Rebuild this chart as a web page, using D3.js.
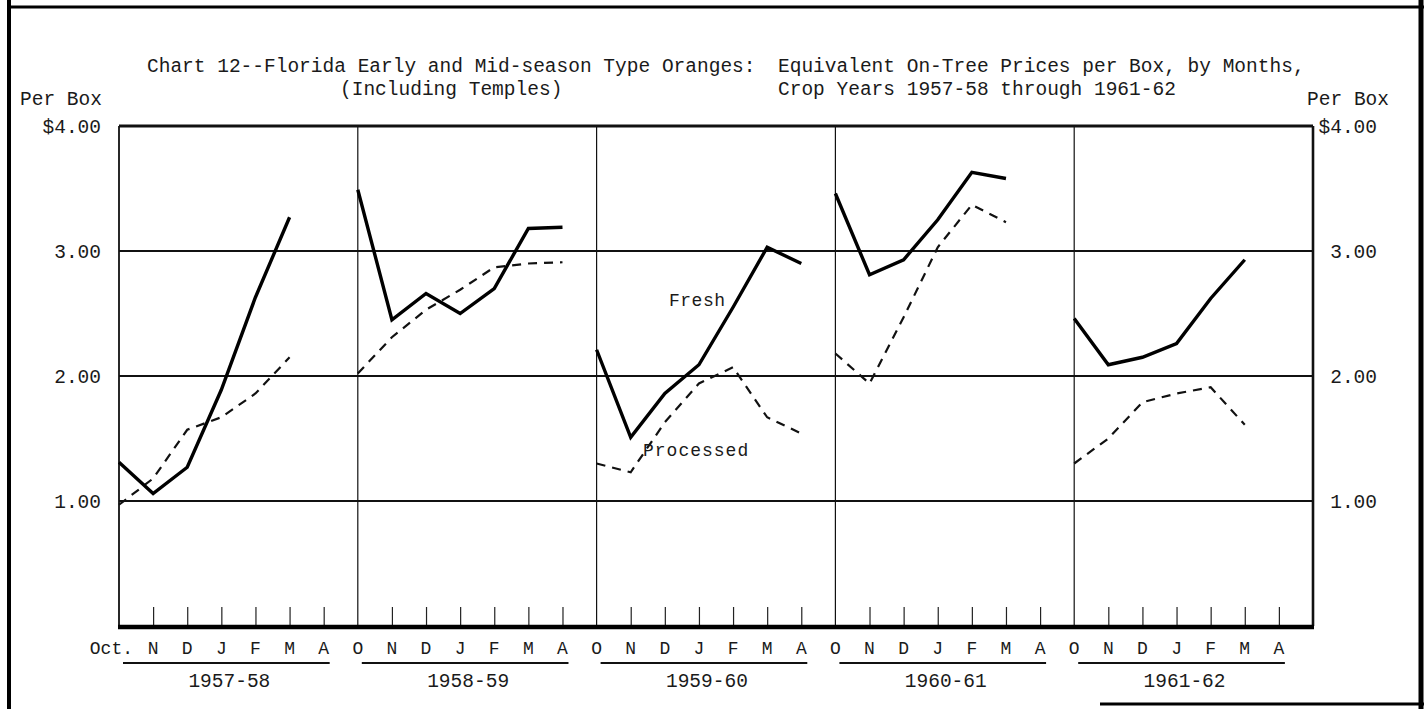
<!DOCTYPE html>
<html>
<head>
<meta charset="utf-8">
<script src="https://cdn.jsdelivr.net/npm/d3@7"></script>
<style>
  body { margin: 0; background: #fff; }
  svg text { font-family: "Liberation Mono", "DejaVu Sans Mono", monospace; fill: #1a1a1a; }
</style>
</head>
<body>
<div id="chart"></div>
<script>
// months of each crop year, Oct. through April
var months = ["O", "N", "D", "J", "F", "M", "A"]
var cropYears = ["1957-58", "1958-59", "1959-60", "1960-61", "1961-62"]
var yTicks = [1, 2, 3, 4]

// equivalent on-tree prices per box, dollars (null = no price)
var fresh1957 = [1.31, 1.06, 1.27, 1.89, 2.63, 3.27, null]
var fresh1958 = [3.49, 2.45, 2.66, 2.50, 2.70, 3.18, 3.19]
var fresh1959 = [2.21, 1.51, 1.86, 2.09, 2.55, 3.03, 2.90]
var fresh1960 = [3.46, 2.81, 2.93, 3.25, 3.63, 3.58, null]
var fresh1961 = [2.46, 2.09, 2.15, 2.26, 2.62, 2.93, null]

var proc1957 = [0.97, 1.18, 1.57, 1.67, 1.86, 2.15, null]
var proc1958 = [2.02, 2.31, 2.53, 2.69, 2.87, 2.90, 2.91]
var proc1959 = [1.30, 1.23, 1.63, 1.94, 2.07, 1.67, 1.54]
var proc1960 = [2.18, 1.94, 2.47, 3.03, 3.37, 3.23, null]
var proc1961 = [1.30, 1.50, 1.79, 1.86, 1.91, 1.61, null]

var fresh = [fresh1957, fresh1958, fresh1959, fresh1960, fresh1961]
var processed = [proc1957, proc1958, proc1959, proc1960, proc1961]

var W = 1425, H = 709
var plot = {left: 119, right: 1313, top: 126, bottom: 626}

var svg = d3.select("#chart").append("svg")
	.attr("width", W)
	.attr("height", H)

var x = d3.scaleLinear()
	.domain([0, months.length * cropYears.length])
	.range([plot.left, plot.right])

var y = d3.scaleLinear()
	.domain([0, 4])
	.range([plot.bottom, plot.top])

var fs = "19.5px"

// page frame
svg.append("line").attr("x1", 9).attr("x2", 9).attr("y1", 0).attr("y2", H)
	.attr("stroke", "#000").attr("stroke-width", 4)
svg.append("line").attr("x1", 7).attr("x2", 1424).attr("y1", 7).attr("y2", 7)
	.attr("stroke", "#000").attr("stroke-width", 3)
svg.append("line").attr("x1", 1421).attr("x2", 1421).attr("y1", 0).attr("y2", H)
	.attr("stroke", "#000").attr("stroke-width", 5)
svg.append("line").attr("x1", 1100).attr("x2", 1424).attr("y1", 704).attr("y2", 704)
	.attr("stroke", "#000").attr("stroke-width", 3)

// title
var title = svg.append("g").style("font-size", fs)
title.append("text").attr("x", 147).attr("y", 72)
	.text("Chart 12--Florida Early and Mid-season Type Oranges:")
title.append("text").attr("x", 778).attr("y", 72)
	.text("Equivalent On-Tree Prices per Box, by Months,")
title.append("text").attr("x", 340).attr("y", 95)
	.text("(Including Temples)")
title.append("text").attr("x", 778).attr("y", 95)
	.text("Crop Years 1957-58 through 1961-62")

svg.append("text").attr("x", 20).attr("y", 105)
	.style("font-size", fs).text("Per Box")
svg.append("text").attr("x", 1389).attr("y", 105).attr("text-anchor", "end")
	.style("font-size", fs).text("Per Box")

// horizontal grid
svg.append("g").selectAll("line")
	.data(yTicks.slice(0, 3))
	.enter().append("line")
	.attr("x1", plot.left).attr("x2", plot.right)
	.attr("y1", function(d) { return y(d) })
	.attr("y2", function(d) { return y(d) })
	.attr("stroke", "#111").attr("stroke-width", 1.8)

// crop year dividers
svg.append("g").selectAll("line")
	.data(d3.range(1, cropYears.length))
	.enter().append("line")
	.attr("x1", function(d) { return x(d * 7) })
	.attr("x2", function(d) { return x(d * 7) })
	.attr("y1", plot.top).attr("y2", plot.bottom)
	.attr("stroke", "#111").attr("stroke-width", 1.2)

// frame of plot
svg.append("line").attr("x1", plot.left).attr("x2", plot.left)
	.attr("y1", plot.top).attr("y2", plot.bottom)
	.attr("stroke", "#111").attr("stroke-width", 1.8)
svg.append("line").attr("x1", plot.right).attr("x2", plot.right)
	.attr("y1", plot.top).attr("y2", plot.bottom)
	.attr("stroke", "#111").attr("stroke-width", 2.6)
svg.append("line").attr("x1", plot.left).attr("x2", plot.right)
	.attr("y1", plot.top).attr("y2", plot.top)
	.attr("stroke", "#111").attr("stroke-width", 3)

// y axes, labels only
var fmt = function(d) { return d == 4 ? "$4.00" : d3.format(".2f")(d) }
svg.append("g")
	.attr("transform", "translate(" + (plot.left - 15) + ",0)")
	.call(d3.axisLeft(y).tickValues(yTicks).tickSize(0).tickFormat(fmt))
svg.append("g")
	.attr("transform", "translate(" + (plot.right + 67) + ",0)")
	.call(d3.axisLeft(y).tickValues(yTicks).tickSize(0).tickFormat(fmt))
svg.selectAll(".domain").remove()
svg.selectAll(".tick text")
	.style("font-size", fs)
	.attr("fill", "#1a1a1a")

// month axis
var monthIdx = d3.range(months.length * cropYears.length)
var xAxis = svg.append("g")
	.attr("transform", "translate(0," + plot.bottom + ")")
	.call(d3.axisBottom(x)
		.tickValues(monthIdx.filter(function(i) { return i % 7 != 0 }))
		.tickSize(-19)
		.tickFormat(""))
xAxis.select(".domain").remove()
xAxis.selectAll(".tick line").attr("stroke", "#222").attr("stroke-width", 1.2)

svg.append("line").attr("x1", plot.left - 1).attr("x2", plot.right + 1)
	.attr("y1", plot.bottom + 1).attr("y2", plot.bottom + 1)
	.attr("stroke", "#000").attr("stroke-width", 4.5)

svg.append("g").selectAll("text")
	.data(monthIdx)
	.enter().append("text")
	.attr("x", function(i) { return i == 0 ? x(i) + 14 : x(i) })
	.attr("y", 654)
	.attr("text-anchor", function(i) { return i == 0 ? "end" : "middle" })
	.style("font-size", "18px")
	.text(function(i) { return i == 0 ? "Oct." : months[i % 7] })

// crop year underline and label
var years = svg.append("g").selectAll("g")
	.data(cropYears)
	.enter().append("g")
years.append("line")
	.attr("x1", function(d, i) { return x(i * 7) + 4 })
	.attr("x2", function(d, i) { return x(i * 7 + 6) + 6 })
	.attr("y1", 663).attr("y2", 663)
	.attr("stroke", "#111").attr("stroke-width", 2)
years.append("text")
	.attr("x", function(d, i) { return x(i * 7 + 3) + 8 })
	.attr("y", 687)
	.attr("text-anchor", "middle")
	.style("font-size", fs)
	.text(function(d) { return d })

// price lines
var line = d3.line()
	.defined(function(d) { return d.v != null })
	.x(function(d) { return x(d.i) })
	.y(function(d) { return y(d.v) })

function toPts(arr, k) {
	return arr.map(function(v, m) { return {i: k * 7 + m, v: v} })
}

svg.append("g").selectAll("path")
	.data(processed)
	.enter().append("path")
	.attr("d", function(d, k) { return line(toPts(d, k)) })
	.attr("fill", "none")
	.attr("stroke", "#111")
	.attr("stroke-width", 2.2)
	.attr("stroke-dasharray", "9,7")

svg.append("g").selectAll("path")
	.data(fresh)
	.enter().append("path")
	.attr("d", function(d, k) { return line(toPts(d, k)) })
	.attr("fill", "none")
	.attr("stroke", "#000")
	.attr("stroke-width", 3.4)
	.attr("stroke-linejoin", "miter")

svg.append("text").attr("x", 669).attr("y", 306)
	.style("font-size", "18px").style("letter-spacing", "0.5px").text("Fresh")
svg.append("text").attr("x", 643).attr("y", 456)
	.style("font-size", "18px").style("letter-spacing", "1px").text("Processed")
</script>
</body>
</html>
